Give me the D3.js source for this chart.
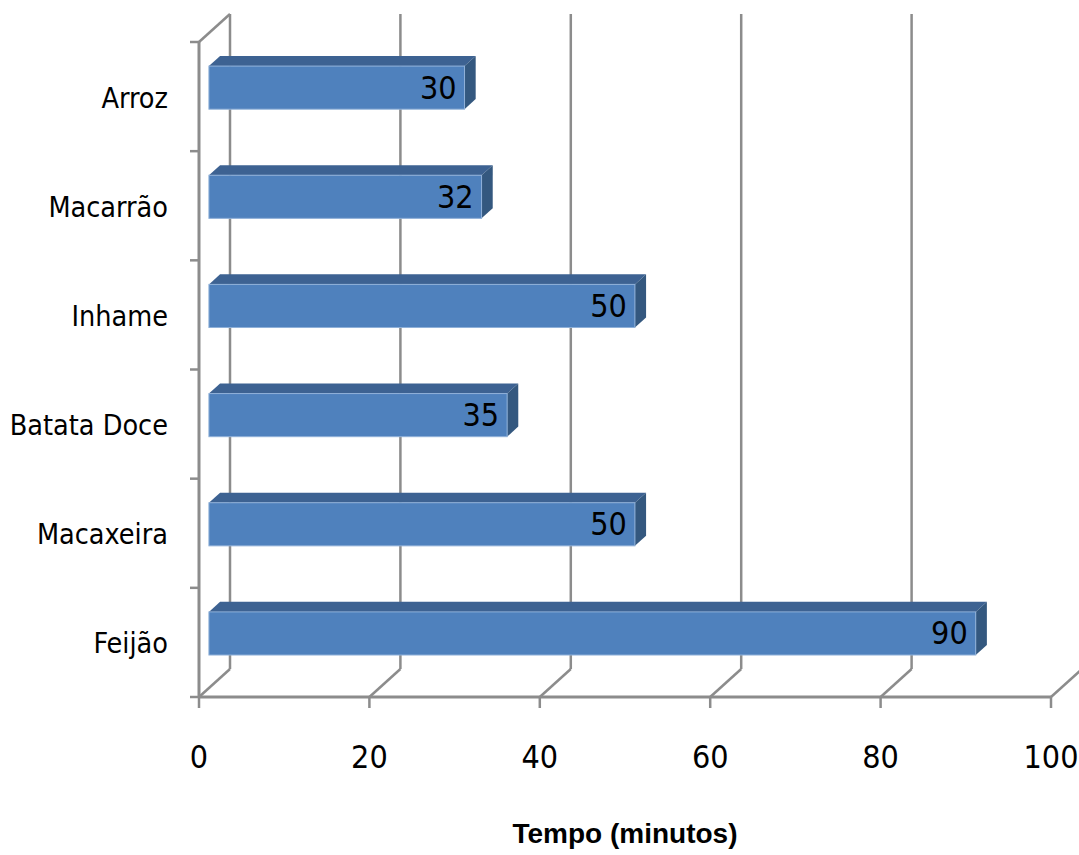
<!DOCTYPE html>
<html>
<head>
<meta charset="utf-8">
<script src="https://cdn.jsdelivr.net/npm/d3@7"></script>
<style>
  html, body { margin: 0; padding: 0; background: #fff; }
  svg text { font-family: "Liberation Sans Narrow", "DejaVu Sans Condensed", "Liberation Sans", sans-serif; fill: #000; }
</style>
</head>
<body>
<svg id="chart" width="1079" height="855"></svg>
<script>
// ── Data ──────────────────────────────────────────────────────────────────────
const categories = ["Arroz", "Macarrão", "Inhame", "Batata Doce", "Macaxeira", "Feijão"];
const values     = [30, 32, 50, 35, 50, 90];
const xTicks     = [0, 20, 40, 60, 80, 100];
const xTitle     = "Tempo (minutos)";

// ── Layout ────────────────────────────────────────────────────────────────────
const svg = d3.select("#chart");

const x = d3.scaleLinear().domain([0, 100]).range([199, 1051]);
const y = d3.scaleBand().domain(categories).range([42, 697]).padding(0);

// 3D depth vector (front plane -> back wall) and bar depth slice
const DX = 31, DY = -28;
const F1 = 0.32, F2 = 0.68;
const barH = y.bandwidth() * 0.395;

const gridCol = "#8c8c8c";
const P = (xp, yp, d) => [xp + d * DX, yp + d * DY];

// ── Walls / grid ──────────────────────────────────────────────────────────────
const grid = svg.append("g").attr("fill", "none").attr("stroke", gridCol);
const floorY = y.range()[1], topY = y.range()[0];

// back wall verticals
grid.selectAll("line.back").data(xTicks).join("line").attr("class", "back")
  .attr("stroke-width", 2.5)
  .attr("x1", d => P(x(d), floorY, 1)[0]).attr("x2", d => P(x(d), topY, 1)[0])
  .attr("y1", P(0, floorY, 1)[1]).attr("y2", P(0, topY, 1)[1]);

// floor diagonals
grid.selectAll("line.diag").data(xTicks).join("line").attr("class", "diag")
  .attr("stroke-width", 2.5)
  .attr("x1", d => x(d)).attr("y1", floorY)
  .attr("x2", d => P(x(d), floorY, 1)[0]).attr("y2", P(0, floorY, 1)[1]);

// left wall top diagonal
grid.append("line").attr("stroke-width", 2.5)
  .attr("x1", x(0)).attr("y1", topY)
  .attr("x2", P(x(0), topY, 1)[0]).attr("y2", P(0, topY, 1)[1]);

// front axes
grid.append("line").attr("stroke-width", 3)
  .attr("x1", x(0)).attr("x2", x(0)).attr("y1", topY).attr("y2", floorY + 1);
grid.append("line").attr("stroke-width", 3)
  .attr("x1", x(0) - 1).attr("x2", x(100)).attr("y1", floorY).attr("y2", floorY);

// category ticks (left) and value ticks (bottom)
const catEdges = categories.map(c => y(c)).concat([floorY]);
grid.selectAll("line.ytick").data(catEdges).join("line").attr("class", "ytick")
  .attr("stroke-width", 2.5)
  .attr("x1", x(0) - 9).attr("x2", x(0)).attr("y1", d => d).attr("y2", d => d);
grid.selectAll("line.xtick").data(xTicks).join("line").attr("class", "xtick")
  .attr("stroke-width", 2.5)
  .attr("x1", d => x(d)).attr("x2", d => x(d)).attr("y1", floorY).attr("y2", floorY + 11);

// ── Bars ──────────────────────────────────────────────────────────────────────
const rows = categories.map((c, i) => ({ cat: c, v: values[i] }));
const bars = svg.append("g").selectAll("g.bar").data(rows).join("g").attr("class", "bar");

function corners(d) {
  const cy = y(d.cat) + y.bandwidth() / 2;
  return { t: cy - barH / 2, b: cy + barH / 2, x0: x(0), x1: x(d.v) };
}
const poly = pts => pts.map(p => p.join(",")).join(" ");

bars.append("polygon") // top face
  .attr("fill", "#3d6292")
  .attr("points", d => {
    const c = corners(d);
    return poly([P(c.x0, c.t, F1), P(c.x1, c.t, F1), P(c.x1, c.t, F2), P(c.x0, c.t, F2)]);
  });
bars.append("polygon") // right side face
  .attr("fill", "#34587f")
  .attr("points", d => {
    const c = corners(d);
    return poly([P(c.x1, c.t, F1), P(c.x1, c.t, F2), P(c.x1, c.b, F2), P(c.x1, c.b, F1)]);
  });
bars.append("rect") // front face
  .attr("fill", "#4f81bd").attr("stroke", "#8fb0d8").attr("stroke-width", 1)
  .attr("x", d => P(corners(d).x0, 0, F1)[0])
  .attr("y", d => P(0, corners(d).t, F1)[1])
  .attr("width", d => corners(d).x1 - corners(d).x0)
  .attr("height", barH);

bars.append("text")
  .attr("text-anchor", "end").attr("font-size", "32px")
  .attr("x", d => P(corners(d).x1, 0, F1)[0] - 8)
  .attr("y", d => P(0, y(d.cat) + y.bandwidth() / 2, F1)[1] + 11)
  .text(d => d.v);

// ── Labels ────────────────────────────────────────────────────────────────────
svg.append("g").selectAll("text").data(categories).join("text")
  .attr("text-anchor", "end").attr("font-size", "28.5px")
  .attr("x", 168).attr("y", d => y(d) + y.bandwidth() / 2 + 11)
  .text(d => d);

svg.append("g").selectAll("text").data(xTicks).join("text")
  .attr("text-anchor", "middle").attr("font-size", "32px")
  .attr("x", d => x(d)).attr("y", 768)
  .text(d => d);

svg.append("text")
  .attr("text-anchor", "middle").attr("font-size", "28px").attr("font-weight", "bold")
  .style("font-family", "'Liberation Sans', sans-serif")
  .attr("x", 625).attr("y", 843)
  .text(xTitle);
</script>
</body>
</html>
